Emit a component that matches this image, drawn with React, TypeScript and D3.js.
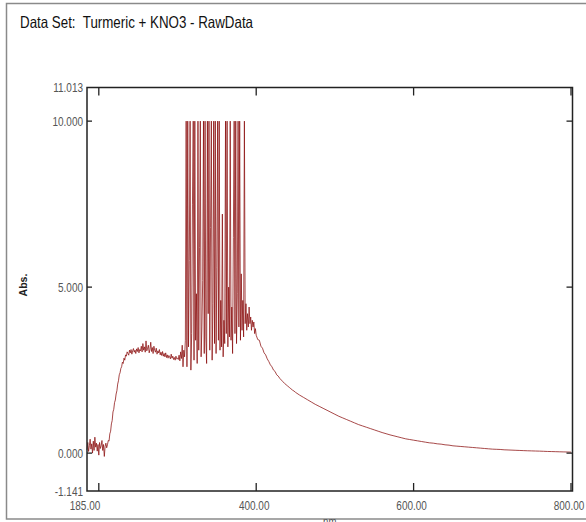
import React, { useRef, useEffect } from "react";
import * as d3 from "d3";

const TITLE = "Data Set:  Turmeric + KNO3 - RawData";
const X_LABEL = "nm";
const Y_LABEL = "Abs.";

// x axis: ticks and the labels printed under them
const X_DOMAIN = [185, 800];
const X_TICKS = [200, 400, 600, 800];
const X_TICK_LABELS = [185, 400, 600, 800];

// y axis
const Y_DOMAIN = [-1.141, 11.013];
const Y_TICKS = [0, 5, 10];
const Y_TICK_LABELS = [-1.141, 0, 5, 10, 11.013];

// absorbance 185..399 nm, 1 nm step
const ABS_185_START = 185;
const ABS_185_STEP = 1;
const ABS_185 = [
  // 185-210
  0.10, 0.32, 0.05, 0.22, 0.42, 0.12, 0.28, 0.00, 0.36, 0.08, 0.48, 0.18, 0.30,
  0.06, 0.26, -0.06, 0.32, 0.14, 0.22, 0.38, 0.08, 0.26, -0.10, 0.20, 0.30, 0.16,
  // 211-236
  0.25, 0.38, 0.36, 0.58, 0.66, 0.88, 0.98, 1.24, 1.32, 1.52, 1.60, 1.78, 1.88,
  2.08, 2.18, 2.36, 2.42, 2.55, 2.60, 2.74, 2.70, 2.86, 2.80, 2.96, 2.92, 3.05,
  // 237-300
  3.00, 2.95, 3.10, 3.02, 3.12, 2.98, 3.08, 3.15, 3.04, 3.10,
  3.00, 3.14, 3.06, 3.18, 3.02, 3.12, 3.08, 3.22, 3.05, 3.30,
  3.10, 3.20, 3.04, 3.38, 3.08, 3.16, 3.25, 3.02, 3.12, 3.34,
  3.06, 3.18, 3.00, 3.22, 3.10, 3.04, 3.16, 2.98, 3.08, 3.02,
  3.12, 2.96, 3.04, 2.94, 3.06, 2.92, 3.00, 2.90, 3.02, 2.88,
  2.96, 2.86, 2.94, 2.90, 2.84, 2.98, 2.86, 2.92, 2.82, 2.88,
  2.80, 2.92, 2.84, 2.86,
  // 301-309
  2.82, 2.95, 2.78, 3.05, 2.85, 3.25, 2.60, 3.10, 2.90,
  // 310-399 (detector saturates at 10)
  3.40, 10, 2.60, 10, 3.20, 5.80, 10, 2.50, 3.60, 7.50,
  10, 2.80, 10, 3.40, 4.80, 2.70, 10, 3.10, 6.20, 10,
  2.90, 3.80, 5.20, 10, 3.00, 10, 3.50, 2.70, 10, 4.20,
  10, 3.10, 6.80, 10, 2.80, 4.50, 10, 3.30, 10, 3.00,
  5.60, 10, 3.40, 10, 3.10, 4.60, 3.20, 7.20, 2.90, 4.00,
  3.30, 10, 3.60, 10, 3.20, 5.00, 3.50, 10, 3.40, 4.40,
  3.00, 6.50, 10, 3.60, 10, 3.30, 4.80, 10, 3.80, 10,
  3.40, 5.40, 3.70, 4.60, 3.50, 10, 3.90, 4.50, 3.70, 4.20,
  3.80, 4.40, 3.90, 4.10, 3.70, 4.00, 3.80, 3.95, 3.60, 3.75,
];

// absorbance 400..450 nm, 2 nm step
const ABS_400_START = 400;
const ABS_400_STEP = 2;
const ABS_400 = [
  3.55, 3.42, 3.40, 3.22, 3.16, 3.02, 2.96, 2.84, 2.76, 2.66, 2.60, 2.50, 2.46,
  2.36, 2.32, 2.25, 2.20, 2.15, 2.10, 2.06, 2.02, 1.98, 1.94, 1.90, 1.87, 1.83,
];

// absorbance 455..800 nm, 5 nm step
const ABS_455_START = 455;
const ABS_455_STEP = 5;
const ABS_455 = [
  1.75, 1.68, 1.61, 1.54, 1.47, 1.41, 1.35, 1.29, 1.23, 1.17,
  1.11, 1.06, 1.01, 0.96, 0.91, 0.86, 0.82, 0.78, 0.74, 0.70,
  0.66, 0.62, 0.585, 0.55, 0.52, 0.49, 0.46, 0.43, 0.41, 0.39,
  0.37, 0.35, 0.33, 0.31, 0.30, 0.28, 0.27, 0.25, 0.24, 0.22,
  0.21, 0.20, 0.19, 0.18, 0.17, 0.16, 0.15, 0.14, 0.13, 0.12,
  0.115, 0.11, 0.10, 0.095, 0.09, 0.085, 0.08, 0.075, 0.07, 0.067,
  0.063, 0.06, 0.055, 0.05, 0.047, 0.044, 0.04, 0.037, 0.034, 0.03,
];

const WIDTH = 586;
const HEIGHT = 522;

const toPoints = (start: number, step: number, values: number[]) =>
  values.map((v, i) => ({ x: start + i * step, y: v }));

const App = () => {
  const ref = useRef<SVGSVGElement>(null);

  useEffect(() => {
    const svg = d3.select(ref.current);
    svg.selectAll("*").remove();

    const box = { left: 87, right: 572.5, top: 87.5, bottom: 491 };
    const font = "'Liberation Sans', Arial, sans-serif";
    const narrow = 0.8; // the original uses a condensed face

    const xScale = d3.scaleLinear().domain(X_DOMAIN).range([87, 571]);
    const yScale = d3.scaleLinear().domain(Y_DOMAIN).range([box.bottom, box.top]);

    const data = [
      ...toPoints(ABS_185_START, ABS_185_STEP, ABS_185),
      ...toPoints(ABS_400_START, ABS_400_STEP, ABS_400),
      ...toPoints(ABS_455_START, ABS_455_STEP, ABS_455),
    ];

    // outer frame
    svg.append("rect")
      .attr("x", 6.5)
      .attr("y", 3.5)
      .attr("width", 590)
      .attr("height", 515.5)
      .attr("fill", "none")
      .attr("stroke", "#8a8a8a")
      .attr("stroke-width", 1.5);

    svg.append("text")
      .attr("x", 20)
      .attr("y", 28)
      .attr("font-family", font)
      .attr("font-size", 16.5)
      .attr("fill", "#111")
      .attr("textLength", 233)
      .attr("lengthAdjust", "spacingAndGlyphs")
      .style("white-space", "pre")
      .text(TITLE);

    // spectrum
    const line = d3.line<{ x: number; y: number }>()
      .x((d) => xScale(d.x))
      .y((d) => yScale(d.y));

    svg.append("path")
      .datum(data)
      .attr("d", line)
      .attr("fill", "none")
      .attr("stroke", "#8b1010")
      .attr("stroke-width", 0.9)
      .attr("stroke-opacity", 0.85);

    // plot box
    svg.append("rect")
      .attr("x", box.left)
      .attr("y", box.top)
      .attr("width", box.right - box.left)
      .attr("height", box.bottom - box.top)
      .attr("fill", "none")
      .attr("stroke", "#222")
      .attr("stroke-width", 1.5);

    const ticks = svg.append("g").attr("stroke", "#222").attr("stroke-width", 1.3);

    X_TICKS.forEach((t) => {
      const x = xScale(t);
      ticks.append("line").attr("x1", x).attr("x2", x).attr("y1", box.bottom).attr("y2", box.bottom - 8);
      ticks.append("line").attr("x1", x).attr("x2", x).attr("y1", box.top).attr("y2", box.top + 8);
    });

    Y_TICKS.forEach((t) => {
      const y = yScale(t);
      ticks.append("line").attr("x1", box.left).attr("x2", box.left + 5).attr("y1", y).attr("y2", y);
      ticks.append("line").attr("x1", box.right).attr("x2", box.right - 6).attr("y1", y).attr("y2", y);
    });

    svg.append("g")
      .selectAll("text")
      .data(Y_TICK_LABELS)
      .enter()
      .append("text")
      .attr("transform", (d) => `translate(83, ${yScale(d)}) scale(${narrow}, 1)`)
      .attr("dy", "0.36em")
      .attr("text-anchor", "end")
      .attr("font-family", font)
      .attr("font-size", 12.5)
      .attr("fill", "#555")
      .text((d) => d3.format(".3f")(d).replace("−", "-"));

    svg.append("g")
      .selectAll("text")
      .data(X_TICK_LABELS)
      .enter()
      .append("text")
      .attr("transform", (d) => `translate(${xScale(d) - 2}, 510) scale(${narrow}, 1)`)
      .attr("text-anchor", "middle")
      .attr("font-family", font)
      .attr("font-size", 12.5)
      .attr("fill", "#555")
      .text((d) => d3.format(".2f")(d));

    svg.append("text")
      .attr("transform", `translate(${(box.left + box.right) / 2}, 526) scale(${narrow}, 1)`)
      .attr("text-anchor", "middle")
      .attr("font-family", font)
      .attr("font-size", 12)
      .attr("fill", "#555")
      .text(X_LABEL);

    svg.append("text")
      .attr("transform", "translate(27, 285) rotate(-90)")
      .attr("text-anchor", "middle")
      .attr("font-family", font)
      .attr("font-size", 10.5)
      .attr("font-weight", "bold")
      .attr("fill", "#222")
      .text(Y_LABEL);
  }, []);

  return (
    <svg
      ref={ref}
      width={WIDTH}
      height={HEIGHT}
      style={{ position: "absolute", left: 0, top: 0, background: "#fff" }}
    />
  );
};

export default App;
